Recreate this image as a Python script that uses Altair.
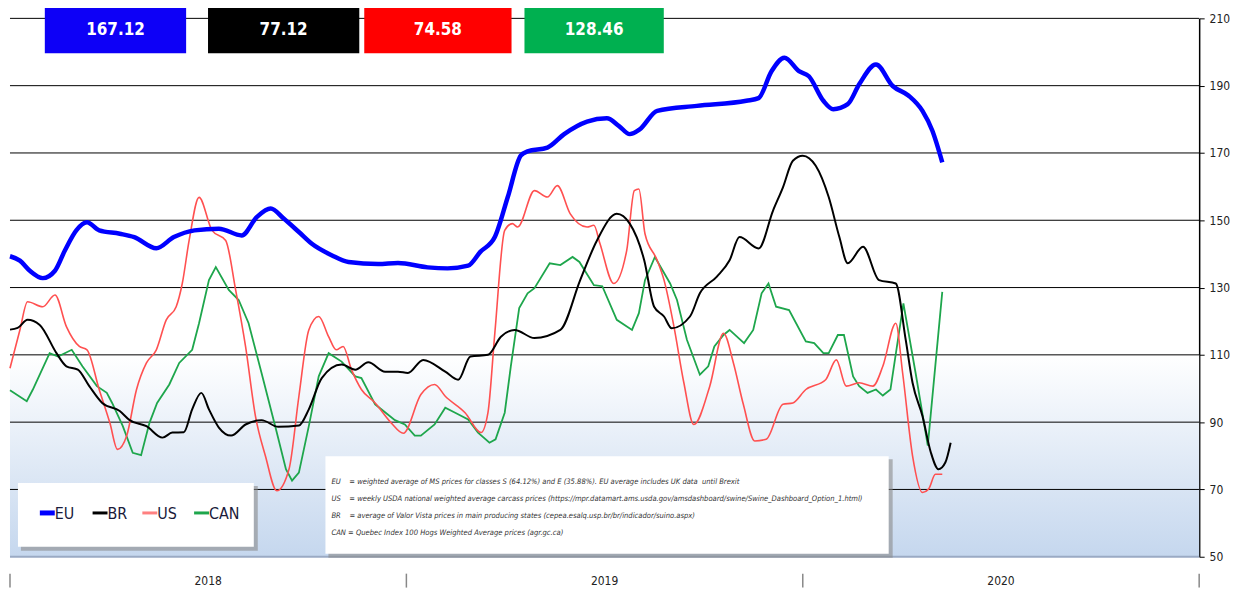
import altair as alt
import pandas as pd

# x = weeks since start of 2018
eu_week = [0, 1.3, 2.6, 4.3, 5.9, 7.2, 8.7, 10.1, 11.7, 14.4, 16.3, 19.2, 21.5, 24.2, 27.4, 30.4, 32.4, 34.2, 35.9, 37.9, 39.6, 42.2, 44.4, 48.3, 50.9, 54.8, 57.4, 60.1, 61.7, 63.6, 65.3, 67.0, 67.9, 70.5, 72.7, 75.7, 78.3, 79.9, 81.3, 82.6, 84.9, 90.1, 96.6, 98.2, 99.9, 101.6, 103.5, 104.8, 106.7, 108.0, 109.9, 111.4, 113.6, 115.8, 117.9, 119.7, 121.0, 122.3]
eu_val = [139.3, 138, 135, 132.8, 135, 141, 147, 149.4, 147, 146, 145, 141.7, 145, 147, 147.5, 145.5, 151, 153.5, 150.5, 146.5, 143, 139.6, 137.6, 137, 137.3, 136, 135.7, 136.5, 140.6, 145, 156.9, 169.2, 170.5, 171.6, 175.6, 179.3, 180.3, 178, 175.6, 177, 182.5, 184, 185.5, 186.3, 194.3, 198.3, 194.3, 192.8, 185.5, 183, 184.5, 190.4, 196.3, 189.9, 187, 182.5, 176.6, 167.2]

br_week = [0, 1.0, 2.3, 3.9, 6.1, 7.4, 8.9, 10.4, 12.1, 14.4, 15.7, 17.9, 20.0, 21.3, 22.8, 23.9, 25.1, 26.1, 27.4, 29.0, 30.9, 33.0, 35.2, 37.9, 39.2, 40.9, 43.5, 45.3, 47.0, 49.2, 50.9, 52.2, 54.2, 57.1, 58.8, 60.4, 62.7, 64.4, 66.2, 68.8, 72.2, 74.8, 77.0, 79.6, 81.3, 83.2, 84.5, 85.8, 86.8, 89.2, 90.5, 92.7, 94.4, 95.7, 98.2, 100.1, 101.4, 102.7, 104.0, 105.7, 107.4, 108.8, 109.9, 111.9, 114.0, 116.2, 117.5, 118.4, 119.7, 120.8, 121.8, 122.7, 123.4]
br_val = [117.5, 118, 120.4, 118.9, 110.5, 106.6, 105.6, 100.7, 95.7, 93.3, 90.6, 88.8, 85.4, 86.9, 87, 93.8, 98.7, 93.8, 88.4, 86, 89.3, 90.6, 88.6, 89, 93.8, 103.1, 107.1, 105.6, 107.8, 105, 105, 104.6, 108.5, 105, 102.6, 109.5, 110, 115.4, 117.4, 115, 117.4, 132.2, 144, 151.9, 149, 138.1, 124.3, 121.4, 117.9, 121.4, 128.3, 133.2, 138.1, 145, 141.6, 152.9, 159.8, 167.7, 169.2, 166.2, 156.9, 145, 137.2, 142.1, 132.2, 131.2, 114.5, 101.7, 91.8, 81, 76, 78, 83.9]

us_week = [0, 1.3, 2.3, 4.3, 5.9, 7.4, 9.1, 10.1, 11.7, 13.1, 14.1, 15.3, 16.6, 17.9, 19.2, 20.5, 21.8, 22.6, 23.5, 24.8, 26.5, 28.3, 29.6, 30.9, 32.2, 33.5, 35.0, 36.6, 37.9, 39.2, 40.5, 41.8, 42.8, 43.7, 44.8, 46.1, 47.9, 50.0, 51.6, 53.9, 55.7, 57.1, 59.7, 61.8, 62.7, 63.6, 64.9, 65.9, 66.6, 68.8, 70.5, 71.8, 73.5, 75.7, 76.6, 77.4, 79.2, 80.9, 81.9, 82.5, 83.3, 84.9, 85.8, 87.1, 88.4, 89.7, 91.8, 93.6, 94.9, 96.2, 97.7, 99.2, 101.4, 102.7, 104.4, 107.0, 108.4, 109.7, 111.4, 113.2, 114.5, 116.2, 117.1, 118.4, 119.7, 120.5, 121.4, 122.3]
us_val = [106, 117.4, 125.8, 124.3, 127.8, 118.4, 112.5, 111.5, 99.7, 89.8, 81.9, 85.9, 99.7, 107.6, 111.5, 120.4, 124.3, 131.2, 144, 156.8, 147, 144, 129.3, 112.5, 91.8, 80, 69.6, 76, 97.7, 117.4, 121.4, 115.4, 111.5, 112.5, 105.6, 99.7, 95.7, 89.8, 86.7, 98.2, 101.2, 97.7, 92.8, 86.9, 92.8, 116.4, 147, 149, 148, 158.8, 156.9, 160.3, 151.9, 148, 148.5, 143, 131.2, 141, 158.8, 159.3, 146, 138.1, 132.2, 118.4, 101.7, 89.3, 100.7, 116.4, 107.6, 95.3, 84.4, 84.9, 95.3, 95.7, 99.7, 102.6, 108.5, 100.7, 101.7, 100.7, 106.6, 119.4, 104.6, 80, 69.1, 70.1, 74.5, 74.5]

can_week = [0, 2.2, 3.0, 5.2, 6.3, 8.1, 9.5, 11.4, 12.7, 13.4, 14.8, 16.1, 17.2, 18.3, 19.3, 20.9, 22.2, 23.9, 24.8, 26.1, 27.0, 28.7, 30.0, 31.3, 33.0, 34.9, 36.2, 37.0, 37.9, 39.2, 40.5, 41.8, 43.5, 45.3, 46.1, 47.9, 50.5, 51.8, 53.1, 53.9, 55.7, 57.1, 58.4, 60.1, 61.4, 62.9, 63.7, 64.9, 65.7, 66.8, 67.9, 68.8, 70.8, 72.2, 73.8, 74.7, 76.6, 77.7, 79.6, 81.6, 82.5, 83.3, 84.6, 86.6, 87.5, 88.8, 90.5, 91.6, 92.4, 93.6, 94.4, 96.3, 97.5, 98.6, 99.5, 100.5, 102.2, 104.4, 105.5, 106.7, 107.4, 108.6, 109.4, 110.6, 111.4, 112.5, 113.6, 114.5, 115.5, 117.2, 118.8, 120.4, 122.3]
can_val = [99.5, 96.2, 99.7, 110.5, 109.5, 111.5, 106.6, 100.7, 98.7, 95.7, 88.8, 80.9, 80.2, 89.8, 95.7, 101.2, 107.6, 111.5, 119.4, 132.2, 136.1, 129.3, 126.3, 119.4, 104.6, 87.8, 76, 72.6, 75, 88.8, 103.6, 110.5, 108, 103.6, 103.1, 95.3, 90.6, 89.3, 86, 86, 89.3, 94.3, 92.8, 90.8, 86.9, 83.9, 84.9, 92.8, 106.6, 123.9, 128.3, 129.8, 137.2, 136.7, 139.1, 137.6, 130.7, 130.4, 120.4, 117.4, 122.4, 132.2, 139.1, 131.2, 126.3, 114.5, 104.1, 106.6, 112.5, 115.9, 117.4, 113.5, 117.4, 128.3, 131.2, 124.3, 123.3, 114, 113.5, 110.5, 110.5, 115.9, 115.9, 103.6, 100.7, 98.7, 99.7, 97.9, 99.7, 125.3, 104.6, 83, 128.7]

series_names = ["EU", "BR", "US", "CAN"]
line_colors = ["#0000ff", "#000000", "#ff5050", "#1ea64c"]
box_colors = ["#0d00f7", "#000000", "#ff0000", "#00b050"]
box_labels = ["167.12", "77.12", "74.58", "128.46"]
grid_values = [70, 90, 110, 130, 150, 170, 190, 210]
axis_values = [50, 70, 90, 110, 130, 150, 170, 190, 210]
year_labels = ["2018", "2019", "2020"]
year_centers = [26, 78, 130]
year_bounds = [0, 52, 104, 156]
notes = [
    "EU\u00a0\u00a0\u00a0 = weighted average of MS prices for classes S (64.12%) and E (35.88%). EU average includes UK data\u00a0 until Brexit",
    "US\u00a0\u00a0\u00a0 = weekly USDA national weighted average carcass prices (https://mpr.datamart.ams.usda.gov/amsdashboard/swine/Swine_Dashboard_Option_1.html)",
    "BR\u00a0\u00a0\u00a0 = average of Valor Vista prices in main producing states (cepea.esalq.usp.br/br/indicador/suino.aspx)",
    "CAN = Quebec Index 100 Hogs Weighted Average prices (agr.gc.ca)",
]

FONT = "DejaVu Sans Condensed, Liberation Sans Narrow, sans-serif"
W, H = 1195, 541
xs = alt.Scale(domain=[0, 156], nice=False, zero=False)
ys = alt.Scale(domain=[50, 210], nice=False, zero=False)
y_axis = alt.Axis(orient="right", values=axis_values, grid=False, title=None,
                  domainColor="#000000", tickColor="#000000", tickSize=5,
                  labelFont=FONT, labelFontSize=12, labelColor="#222222", labelPadding=5)
one = alt.Data(values=[{"a": 1}])

# background gradient below 110
bg = alt.Chart(pd.DataFrame({"x": [0], "x2": [156], "y": [110], "y2": [50]})).mark_rect(
    fill=alt.LinearGradient(gradient="linear",
                            stops=[alt.GradientStop(color="#ffffff", offset=0),
                                   alt.GradientStop(color="#c5d7ee", offset=1)],
                            x1=0, x2=0, y1=0, y2=1)
).encode(x=alt.X("x:Q", scale=xs, axis=None), x2="x2:Q",
         y=alt.Y("y:Q", scale=ys, axis=y_axis), y2="y2:Q")

grid = alt.Chart(pd.DataFrame({"v": grid_values})).mark_rule(color="#000000", strokeWidth=1).encode(
    y=alt.Y("v:Q", scale=ys, axis=y_axis))
bottom = alt.Chart(pd.DataFrame({"v": [50]})).mark_rule(color="#9aaac4", strokeWidth=2).encode(
    y=alt.Y("v:Q", scale=ys, axis=y_axis))

def line(weeks, vals, color, width, interp):
    df = pd.DataFrame({"week": weeks, "price": vals})
    return alt.Chart(df).mark_line(color=color, strokeWidth=width, interpolate=interp).encode(
        x=alt.X("week:Q", scale=xs, axis=None), y=alt.Y("price:Q", scale=ys, axis=y_axis))

l_can = line(can_week, can_val, line_colors[3], 1.8, "linear")
l_us = line(us_week, us_val, line_colors[2], 1.6, "monotone")
l_br = line(br_week, br_val, line_colors[1], 2.0, "monotone")
l_eu = line(eu_week, eu_val, line_colors[0], 4.5, "monotone")

layers = [bg, grid, bottom, l_can, l_us, l_br, l_eu]

def box(x1, x2, y1, y2, color, opacity=1.0):
    return alt.Chart(one).mark_rect(color=color, opacity=opacity).encode(
        x=alt.value(x1), x2=alt.value(x2), y=alt.value(y1), y2=alt.value(y2))

def label(txt, x, y, **kw):
    return alt.Chart(one).mark_text(text=txt, **kw).encode(x=alt.value(x), y=alt.value(y))

# legend box
layers += [box(11, 249, 470, 535, "#8a8a8a", 0.6), box(8, 245, 467, 531, "#ffffff")]
leg_x = [30, 83, 133, 185]
leg_w = [5, 3, 3, 3]
leg_sym = ["#0000ff", "#000000", "#ff8080", "#1ea64c"]
for i, name in enumerate(series_names):
    layers.append(alt.Chart(one).mark_rule(color=leg_sym[i], strokeWidth=leg_w[i]).encode(
        x=alt.value(leg_x[i]), x2=alt.value(leg_x[i] + 15), y=alt.value(497)))
    layers.append(label(name, leg_x[i] + 15, 498, align="left", baseline="middle",
                        font=FONT, fontSize=16, color="#1a1a3a"))

# notes box
layers += [box(320, 887, 443, 542, "#8a8a8a", 0.6), box(317, 883, 440, 538, "#ffffff")]
for i, t in enumerate(notes):
    layers.append(label(t, 323, 466 + 17 * i, align="left", baseline="middle", font=FONT,
                        fontSize=7.6, fontStyle="italic", color="#333333"))

# top value boxes
bx = [35, 199, 356, 517]
bw = [142, 152, 148, 140]
for i in range(4):
    layers.append(box(bx[i], bx[i] + bw[i], -15, 35, box_colors[i]))
    layers.append(label(box_labels[i], bx[i] + bw[i] / 2, 12, align="center", baseline="middle",
                        font=FONT, fontSize=17, fontWeight="bold", color="#ffffff"))

# year labels and separators below plot
sep = alt.Chart(pd.DataFrame({"w": year_bounds})).mark_rule(color="#888888", strokeWidth=1.5).encode(
    x=alt.X("w:Q", scale=xs, axis=None), y=alt.value(558), y2=alt.value(572))
yl = alt.Chart(pd.DataFrame({"w": year_centers, "t": year_labels})).mark_text(
    font=FONT, fontSize=12, color="#222222", baseline="middle").encode(
    x=alt.X("w:Q", scale=xs, axis=None), y=alt.value(565), text="t:N")
layers += [sep, yl]

chart = alt.layer(*layers).properties(
    width=W, height=H,
    autosize=alt.AutoSizeParams(type="none"),
    padding={"left": 2, "top": 9, "right": 35, "bottom": 32},
).configure_view(stroke=None).configure_axis(domainWidth=1.5)

chart.save("out.html", embed_options={"renderer": "svg", "actions": False})
